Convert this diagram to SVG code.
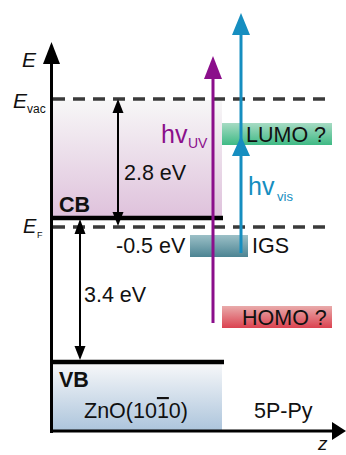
<svg xmlns="http://www.w3.org/2000/svg" width="346" height="455" viewBox="0 0 346 455">
<defs>
<style>
text{font-family:"Liberation Sans",Arial,sans-serif;fill:#111}
.lbl{font-size:21.5px}
.b{font-weight:bold}
.it{font-style:italic}
.dash{stroke:#3a3a3a;stroke-width:3.5;stroke-dasharray:12 8;fill:none}
.band{stroke:#000;stroke-width:4.5}
.axis{stroke:#000;stroke-width:3;fill:none}
.thin{stroke:#000;stroke-width:2;fill:none}
.purple{stroke:#8b0f8b;stroke-width:3;fill:none}
.blue{stroke:#168ec0;stroke-width:3;fill:none}
</style>
<linearGradient id="gCB" x1="0" y1="0" x2="0" y2="1"><stop offset="0" stop-color="#f7f7f7"/><stop offset="1" stop-color="#dfc2dc"/></linearGradient>
<linearGradient id="gVB" x1="0" y1="0" x2="0" y2="1"><stop offset="0" stop-color="#f6f7f9"/><stop offset="1" stop-color="#adc5dc"/></linearGradient>
<linearGradient id="gLUMO" x1="0" y1="0" x2="0" y2="1"><stop offset="0" stop-color="#a6dbc3"/><stop offset="1" stop-color="#3fba85"/></linearGradient>
<linearGradient id="gIGS" x1="0" y1="0" x2="0" y2="1"><stop offset="0" stop-color="#9cc0c7"/><stop offset="1" stop-color="#4c8493"/></linearGradient>
<linearGradient id="gHOMO" x1="0" y1="0" x2="0" y2="1"><stop offset="0" stop-color="#e9abab"/><stop offset="1" stop-color="#db4250"/></linearGradient>
</defs>

<g id="cb-region"><rect x="53" y="100" width="169" height="116" fill="url(#gCB)"/></g>
<g id="vb-region"><rect x="53" y="364" width="169" height="66" fill="url(#gVB)"/></g>

<g id="evac-level">
<line class="dash" x1="53" y1="99" x2="326" y2="99"/>
<text class="it" x="13" y="108" font-size="21">E</text>
<text x="27" y="113" font-size="12">vac</text>
</g>
<g id="ef-level">
<line class="dash" x1="53" y1="227" x2="326" y2="227"/>
<text class="it" x="23" y="233" font-size="20">E</text>
<text x="37" y="238" font-size="9">F</text>
</g>

<g id="cb">
<line class="band" x1="51" y1="218" x2="223" y2="218"/>
<text class="lbl b" x="59" y="212">CB</text>
</g>
<g id="vb">
<line class="band" x1="51" y1="362" x2="224" y2="362"/>
<text class="lbl b" x="59" y="387">VB</text>
<text class="lbl" x="84" y="418">ZnO(10<tspan style="text-decoration:overline">1</tspan>0)</text>
</g>
<g id="molecule"><text class="lbl" x="254" y="418">5P-Py</text></g>

<g id="lumo">
<rect x="222" y="123" width="110" height="22" fill="url(#gLUMO)"/>
<text class="lbl" x="246" y="142">LUMO ?</text>
</g>
<g id="igs">
<rect x="190" y="235" width="58" height="22" fill="url(#gIGS)"/>
<text class="lbl" x="252" y="253">IGS</text>
<text class="lbl" x="116" y="253">-0.5 eV</text>
</g>
<g id="homo">
<rect x="222" y="306" width="110" height="22" fill="url(#gHOMO)"/>
<text class="lbl" x="242" y="325">HOMO ?</text>
</g>

<g id="axes">
<line class="axis" x1="51.5" y1="433" x2="51.5" y2="60"/>
<polygon points="51.5,42 43,64 60,64" fill="#000"/>
<text class="it" x="22" y="67" font-size="21">E</text>
<line class="axis" x1="50" y1="431" x2="335" y2="431"/>
<polygon points="346,431 332,422 332,440" fill="#000"/>
<text class="it" x="318" y="450" font-size="19">z</text>
</g>

<g id="connectors">
<line class="thin" x1="118" y1="110" x2="118" y2="214"/>
<polygon points="118,99 112.5,113 123.5,113" fill="#000"/>
<polygon points="118,226 112.5,212 123.5,212" fill="#000"/>
<line class="thin" x1="80" y1="230" x2="80" y2="350"/>
<polygon points="80,219 74.5,234 85.5,234" fill="#000"/>
<polygon points="80,360 74.5,346 85.5,346" fill="#000"/>
<line class="purple" x1="213" y1="323" x2="213" y2="75"/>
<polygon points="213,56 204,79 222,79" fill="#8b0f8b"/>
<line class="blue" x1="241" y1="253" x2="241" y2="30"/>
<polygon points="241,13 232,35 250,35" fill="#168ec0"/>
<polygon points="241,136 232,156 250,156" fill="#168ec0"/>
</g>

<g id="labels">
<text x="161" y="143" font-size="25" style="fill:#8b0f8b">hv</text>
<text x="188" y="148" font-size="14" style="fill:#8b0f8b">UV</text>
<text x="248" y="195" font-size="25" style="fill:#168ec0">hv</text>
<text x="277" y="201" font-size="13" style="fill:#168ec0">vis</text>
<text class="lbl" x="124" y="180">2.8 eV</text>
<text class="lbl" x="84" y="302">3.4 eV</text>
</g>
</svg>
